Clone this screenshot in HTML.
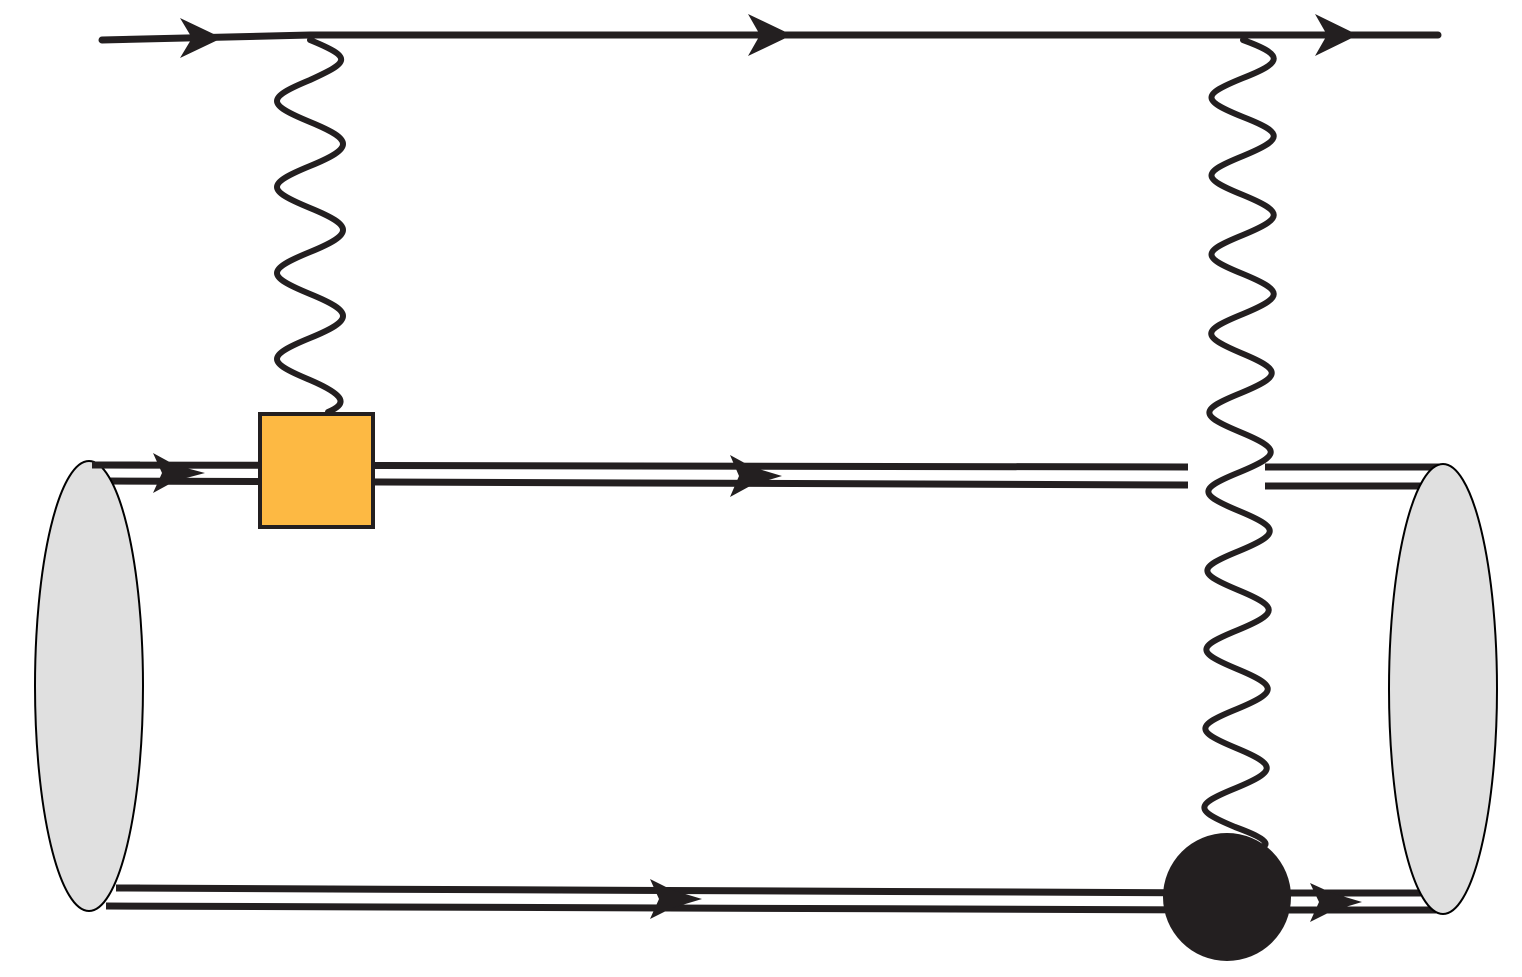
<!DOCTYPE html>
<html><head><style>body{margin:0;background:#fff}svg{display:block}</style></head><body>
<svg width="1522" height="977" viewBox="0 0 1522 977" xmlns="http://www.w3.org/2000/svg">
<g stroke="#231f20" fill="none" stroke-linecap="round">
<path d="M102 40 L310 35 L1438 35" stroke-width="7"/>
<path d="M310 40 C354 58,349 62,310 80 C266 98,266 104,310 122 C354 140,354 148,310 166 C266 184,266 190,310 208 C354 226,354 234,310 252 C266 270,266 276,310 294 C354 312,354 320,310 338 C266 356,266 362,310 380 C347 396,347 404,328 412" stroke-width="6"/>
<path d="M1243 40 C1284 55,1284 62,1243 78 C1201 95,1201 100,1243 117 C1284 133,1284 139,1243 156 C1201 173,1201 178,1243 195 C1284 212,1284 218,1243 235 C1201 252,1201 257,1243 274 C1284 291,1284 297,1243 314 C1201 331,1201 336,1241 353 C1282 370,1282 376,1241 393 C1199 410,1199 415,1240 432 C1281 449,1281 455,1240 472 C1198 489,1198 494,1239 511 C1280 528,1280 534,1239 551 C1197 568,1197 573,1238 590 C1279 607,1279 613,1238 630 C1196 647,1196 652,1237 669 C1278 686,1278 692,1237 709 C1195 726,1195 731,1236 748 C1277 765,1277 771,1236 788 C1194 805,1194 810,1235 827 C1276 842,1268 846,1255 850" stroke-width="6"/>
</g>
<g stroke="#231f20" stroke-width="7" fill="none">
<path d="M92 465 L1188 467"/><path d="M108 481 L1188 485"/>
<path d="M1265 467 L1440 467"/><path d="M1265 486 L1430 486"/>
<path d="M116 888 L1230 893"/><path d="M106 906 L1230 910"/>
<path d="M1230 893 L1425 893"/><path d="M1230 910 L1440 910"/>
</g>
<ellipse cx="89" cy="686" rx="54" ry="225" fill="#e0e0e0" stroke="#000" stroke-width="2"/>
<ellipse cx="1443" cy="689" rx="54" ry="225" fill="#e0e0e0" stroke="#000" stroke-width="2"/>
<g stroke="#231f20" stroke-width="7" fill="none">
<path d="M92 465 L140 465"/><path d="M116 888 L140 888"/>
</g>
<g fill="#231f20">
<polygon points="180,18 222,38 180,58 192,38"/>
<polygon points="748,14 792,35 748,56 760,35"/>
<polygon points="1315,14 1358,35 1315,56 1327,35"/>
<polygon points="153,453 175,465 205,473 175,481 153,493 162,473"/>
<polygon points="730,455 752,467 782,476 752,485 730,497 739,476"/>
<polygon points="650,879 672,890 702,899 672,908 650,919 659,899"/>
<polygon points="1310,883 1332,893 1362,902 1332,911 1310,922 1319,902"/>
<circle cx="1227" cy="897" r="64"/>
</g>
<rect x="260" y="414" width="113" height="113" fill="#fdb943" stroke="#231f20" stroke-width="4"/>
</svg>
</body></html>
